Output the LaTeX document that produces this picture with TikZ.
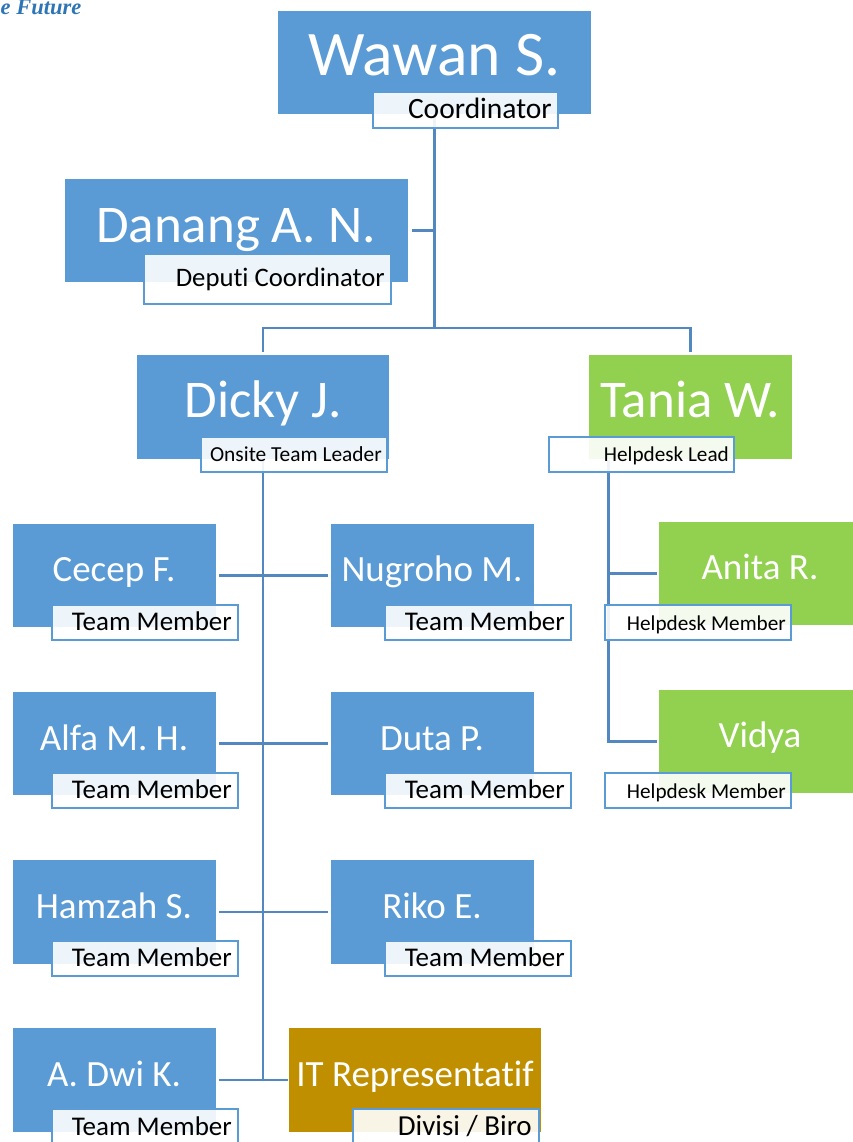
\documentclass[tikz,border=0pt]{standalone}
\usepackage{fontspec}
\setmainfont[Ligatures=NoCommon]{Carlito}
\newfontfamily\slogfont{Liberation Serif}
\usetikzlibrary{backgrounds}
\definecolor{boxblue}{HTML}{5B9BD5}
\definecolor{boxgreen}{HTML}{92D050}
\definecolor{boxgold}{HTML}{BF8F00}
\definecolor{linkblue}{HTML}{5288BF}
\definecolor{sloganblue}{HTML}{2E75B6}
\tikzset{
  blockbase/.style={inner sep=0pt,outer sep=0pt},
  blueblock/.style={blockbase,fill=boxblue},
  greenblock/.style={blockbase,fill=boxgreen},
  goldblock/.style={blockbase,fill=boxgold},
  tagbox/.style={blockbase,draw=boxblue,line width=2.8pt,fill=white,fill opacity=0.9},
  linkline/.style={draw=linkblue,line width=2.8pt},
  nametext/.style={inner sep=0pt,text=white,anchor=base,yshift=-1pt},
  roletext/.style={inner sep=0pt,text=black,anchor=base east,yshift=-0.8pt},
  slogantext/.style={anchor=base west,inner sep=0pt,text=sloganblue},
}
\newcommand\fs[1]{\fontsize{#1}{#1}\selectfont}
% \rbox{style}{name}{x1}{y1}{x2}{y2}
\newcommand\rbox[6]{%
  \pgfmathsetmacro\cxv{(#3+#5)/2}\pgfmathsetmacro\cyv{(#4+#6)/2}%
  \pgfmathsetmacro\wv{#5-#3}\pgfmathsetmacro\hv{#6-#4}%
  \node[#1,minimum width=\wv pt,minimum height=\hv pt] (#2) at (\cxv,\cyv) {};}
\begin{document}
\begin{tikzpicture}[x=1pt,y=-1pt]
\useasboundingbox (0,0) rectangle (853,1142);
\node[slogantext] (slogan) at (0.5,15) {\slogfont\fs{22.5}\bfseries\itshape e Future};
% blocks
\rbox{blueblock}{wawan}{278}{11}{591}{114}
\rbox{blueblock}{danang}{65}{179}{408}{282}
\rbox{blueblock}{dicky}{137}{355}{389}{459}
\rbox{greenblock}{tania}{589}{355}{792}{459}
\rbox{blueblock}{cecep}{13}{524}{216}{627}
\rbox{blueblock}{nugroho}{331}{524}{534}{627}
\rbox{greenblock}{anita}{659}{522}{853}{625}
\rbox{blueblock}{alfa}{13}{692}{216}{795}
\rbox{blueblock}{duta}{331}{692}{534}{795}
\rbox{greenblock}{vidya}{659}{690}{853}{793}
\rbox{blueblock}{hamzah}{13}{860}{216}{964}
\rbox{blueblock}{riko}{331}{860}{534}{964}
\rbox{blueblock}{dwi}{13}{1028}{216}{1132}
\rbox{goldblock}{itrep}{289}{1028}{541}{1132}
% tags
\rbox{tagbox}{wawanT}{373}{92}{558}{128}
\rbox{tagbox}{danangT}{144}{254}{391}{304}
\rbox{tagbox}{dickyT}{201}{437}{387}{472}
\rbox{tagbox}{taniaT}{549}{437}{734}{472}
\rbox{tagbox}{cecepT}{52}{605}{238}{640}
\rbox{tagbox}{nugrohoT}{385}{605}{571}{640}
\rbox{tagbox}{anitaT}{605}{605}{791}{640}
\rbox{tagbox}{alfaT}{52}{773}{238}{808}
\rbox{tagbox}{dutaT}{385}{773}{571}{808}
\rbox{tagbox}{vidyaT}{605}{773}{791}{808}
\rbox{tagbox}{hamzahT}{52}{941}{238}{976}
\rbox{tagbox}{rikoT}{385}{941}{571}{976}
\rbox{tagbox}{dwiT}{52}{1109}{238}{1146}
\rbox{tagbox}{itrepT}{353}{1109}{539}{1146}
% names
\node[nametext] (n1) at (434.5,75) {\fs{63.5}Wawan S.};
\node[nametext] (n2) at (236,241) {\fs{53}Danang A. N.};
\node[nametext] (n3) at (263,416) {\fs{53}Dicky J.};
\node[nametext] (n4) at (690,416) {\fs{53}Tania W.};
\node[nametext] (n5) at (114,580) {\fs{37}Cecep F.};
\node[nametext] (n6) at (432,580) {\fs{37}Nugroho M.};
\node[nametext] (n7) at (760,578) {\fs{37}Anita R.};
\node[nametext] (n8) at (114,749) {\fs{37}Alfa M. H.};
\node[nametext] (n9) at (432,749) {\fs{37}Duta P.};
\node[nametext] (n10) at (760,746) {\fs{37}Vidya};
\node[nametext] (n11) at (114,917) {\fs{37}Hamzah S.};
\node[nametext] (n12) at (432,917) {\fs{37}Riko E.};
\node[nametext] (n13) at (114,1085) {\fs{37}A. Dwi K.};
\node[nametext] (n14) at (415,1085) {\fs{37}IT Representatif};
% roles
\node[roletext] (r1) at (552,118) {\fs{29.5}Coordinator};
\node[roletext] (r2) at (385,286) {\fs{26.7}Deputi Coordinator};
\node[roletext] (r3) at (382,461) {\fs{21.4}Onsite Team Leader};
\node[roletext] (r4) at (729,461) {\fs{21.2}Helpdesk Lead};
\node[roletext] (r5) at (232,630) {\fs{27}Team Member};
\node[roletext] (r6) at (565,630) {\fs{27}Team Member};
\node[roletext] (r7) at (786,630) {\fs{21.2}Helpdesk Member};
\node[roletext] (r8) at (232,798) {\fs{27}Team Member};
\node[roletext] (r9) at (565,798) {\fs{27}Team Member};
\node[roletext] (r10) at (786,798) {\fs{21.2}Helpdesk Member};
\node[roletext] (r11) at (232,966) {\fs{27}Team Member};
\node[roletext] (r12) at (565,966) {\fs{27}Team Member};
\node[roletext] (r13) at (232,1135) {\fs{27}Team Member};
\node[roletext] (r14) at (532,1135) {\fs{29}Divisi / Biro};
% connectors
\coordinate (bus) at (434.5,328);
\coordinate (hdtop) at (608.5,460);
\begin{pgfonlayer}{background}
\draw[linkline] (wawan.south) -- (bus);
\draw[linkline,shorten <=4pt] (danang.east) -- (danang.east -| wawan.south);
\draw[linkline,shorten <=3pt,shorten >=3pt] (dicky.north) |- (bus) -| (tania.north);
\draw[linkline] (dicky.south) -- (dicky.south |- dwi.east);
\draw[linkline,shorten <=3pt,shorten >=3pt] (cecep.east) -- (nugroho.west);
\draw[linkline,shorten <=3pt,shorten >=3pt] (alfa.east) -- (duta.west);
\draw[linkline,shorten <=3pt,shorten >=3pt] (hamzah.east) -- (riko.west);
\draw[linkline,shorten <=3pt,shorten >=1pt] (dwi.east) -- (itrep.west);
\draw[linkline,shorten >=2pt] (hdtop) |- (anita.west);
\draw[linkline,shorten >=2pt] (hdtop) |- (vidya.west);
\end{pgfonlayer}
\end{tikzpicture}
\end{document}
